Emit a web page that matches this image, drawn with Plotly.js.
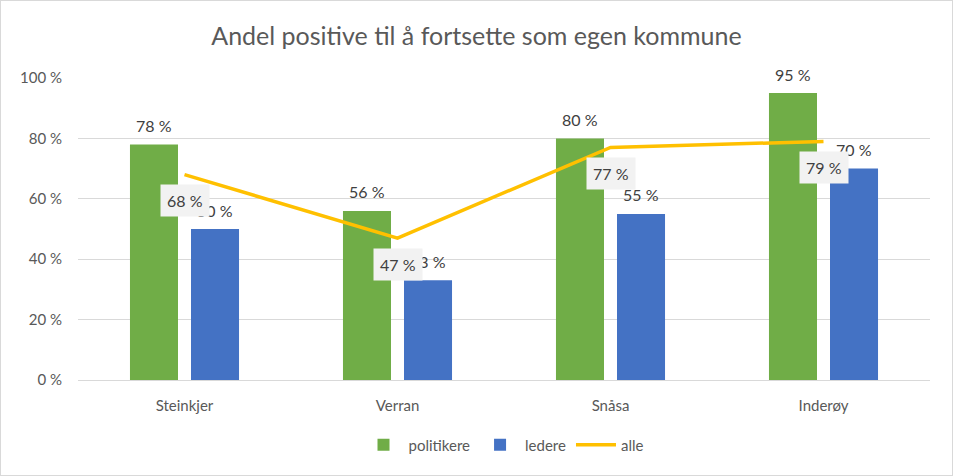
<!DOCTYPE html>
<html><head><meta charset="utf-8">
<script src="https://cdn.plot.ly/plotly-3.0.1.min.js"></script>
<style>html,body{margin:0;padding:0;background:#fff}#c{width:953px;height:476px;box-sizing:border-box;border:1px solid #d9d9d9}</style>
</head><body><div id="c"><div id="plot"></div></div>
<script>
const categories = ["Steinkjer", "Verran", "Snåsa", "Inderøy"];
const politikere = [78, 56, 80, 95];
const ledere = [50, 33, 55, 70];
const alle = [68, 47, 77, 79];
const yTicks = [0, 20, 40, 60, 80, 100];
const yTickText = ["0 %", "20 %", "40 %", "60 %", "80 %", "100 %"];

const font = "Lato, 'Open Sans', sans-serif";
const grey = "#595959";
const pct = v => v + " %";

const traces = [
  {type: "bar", name: "politikere", x: categories, y: politikere, marker: {color: "#70ad47"}, hoverinfo: "none"},
  {type: "bar", name: "ledere", x: categories, y: ledere, marker: {color: "#4472c4"}, hoverinfo: "none"},
  {type: "scatter", mode: "lines", name: "alle", x: categories, y: alle, line: {color: "#ffc000", width: 3.5}, hoverinfo: "none"}
];

const annotations = [];
categories.forEach((c, i) => {
  annotations.push({x: c, y: politikere[i], text: pct(politikere[i]), xshift: -30.5, yshift: 19, showarrow: false, font: {family: font, size: 16, color: "#404040"}});
  annotations.push({x: c, y: ledere[i], text: pct(ledere[i]), xshift: 30.5, yshift: 19, showarrow: false, font: {family: font, size: 16, color: "#404040"}});
});
categories.forEach((c, i) => {
  annotations.push({x: c, y: alle[i], text: pct(alle[i]), yshift: -26, showarrow: false, bgcolor: "#f2f2f2", borderpad: 6, font: {family: font, size: 16, color: "#404040"}});
});

const layout = {
  width: 951, height: 474,
  margin: {l: 77, r: 22, t: 77, b: 95},
  paper_bgcolor: "#fff", plot_bgcolor: "#fff",
  title: {text: "Andel positive til å fortsette som egen kommune", x: 0.5, xanchor: "center", y: 0.925, yanchor: "middle", font: {family: font, size: 25, color: grey}},
  barmode: "group", bargap: 0.427, bargroupgap: 0.213,
  xaxis: {type: "category", tickfont: {family: font, size: 15, color: grey}, showgrid: false, showline: false, ticks: "outside", ticklen: 12, tickcolor: "rgba(0,0,0,0)"},
  yaxis: {range: [0, 100], tickvals: yTicks, ticktext: yTickText, tickfont: {family: font, size: 15, color: grey}, gridcolor: "#d9d9d9", gridwidth: 1, zeroline: true, zerolinecolor: "#d9d9d9", zerolinewidth: 1, showline: false, ticks: "outside", ticklen: 12, tickcolor: "rgba(0,0,0,0)"},
  legend: {orientation: "h", x: 0.5, xanchor: "center", y: -0.215, yanchor: "middle", font: {family: font, size: 15, color: grey}, itemwidth: 40, traceorder: "normal"},
  annotations: annotations,
  showlegend: true
};

Plotly.newPlot("plot", traces, layout, {displayModeBar: false, staticPlot: true});
</script></body></html>
